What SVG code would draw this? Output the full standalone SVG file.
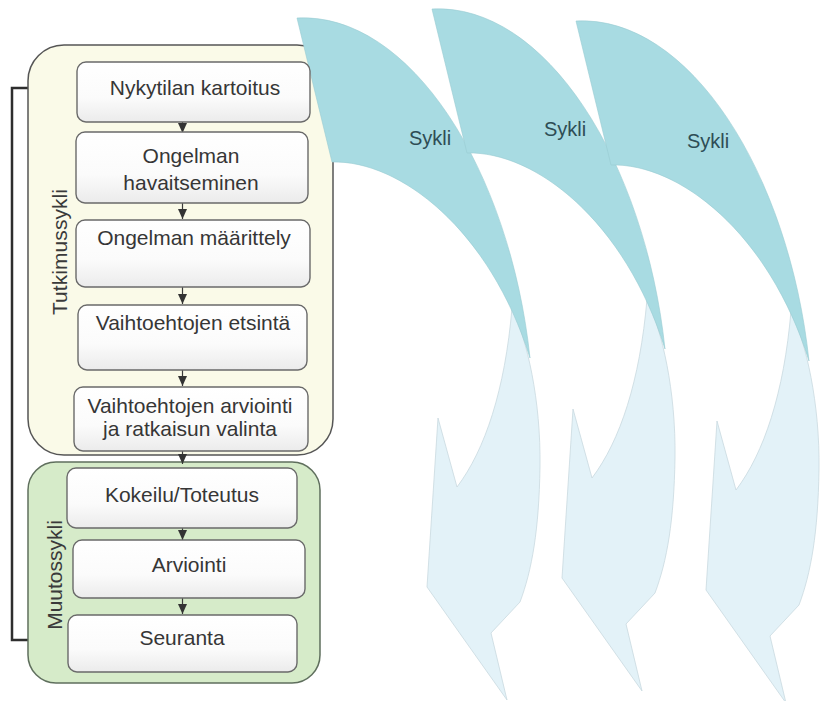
<svg xmlns="http://www.w3.org/2000/svg" xmlns:xlink="http://www.w3.org/1999/xlink" width="820" height="701" viewBox="0 0 820 701">
  <style>
    .lbl { font-family: "Liberation Sans", Arial, sans-serif; font-size: 21px; fill: #363636; text-anchor: middle; }
    .side { font-family: "Liberation Sans", Arial, sans-serif; font-size: 21px; fill: #3a3a3a; text-anchor: middle; }
    .cyc { font-family: "Liberation Sans", Arial, sans-serif; font-size: 20px; fill: #2e4d55; text-anchor: middle; }
    .step { fill: url(#boxFill); stroke: #6a6a6a; stroke-width: 1.4; }
    .conn { stroke: #3a3a3a; stroke-width: 1.2; fill: none; marker-end: url(#tri); }
    .upper { fill: #a8dbe2; stroke: #98cbd2; stroke-width: 0.6; }
    .lower { fill: #e3f2f8; stroke: #c9d9df; stroke-width: 0.8; }
  </style>
  <defs>
    <linearGradient id="boxFill" x1="0" y1="0" x2="0" y2="1">
      <stop offset="0" stop-color="#ffffff"/>
      <stop offset="0.6" stop-color="#fbfbfb"/>
      <stop offset="1" stop-color="#ebebeb"/>
    </linearGradient>
    <marker id="tri" markerUnits="userSpaceOnUse" markerWidth="10" markerHeight="9" refX="10" refY="4.5" orient="auto">
      <path d="M0,0 L10,4.5 L0,9 Z" fill="#333"/>
    </marker>
    <!-- one curved cycle arrow: pale descending head under the teal crescent -->
    <g id="cycleArrow">
      <path class="lower" d="M512,308 C527,340 541,400 540,467 C539,530 532,570 520,602 L491,633 L507,700 L427,587 L438,418 L457,487 C485,450 505,390 512,308 Z"/>
      <path class="upper" d="M297,18 C410,12 510,170 530,358 C490,230 400,160 332,162 Z"/>
    </g>
  </defs>

  <rect width="820" height="701" fill="#ffffff"/>

  <!-- bracket joining the two phases -->
  <path d="M28,88 H12 V640 H28" fill="none" stroke="#2e2e2e" stroke-width="2.5"/>

  <!-- phase containers -->
  <g id="tutkimussykli">
    <rect x="28" y="45" width="305" height="410" rx="36" ry="36" fill="#fafae8" stroke="#555" stroke-width="1.5"/>
    <text class="side" transform="translate(67,252) rotate(-90)" textLength="126" lengthAdjust="spacing">Tutkimussykli</text>
  </g>
  <g id="muutossykli">
    <rect x="28" y="462" width="292" height="221" rx="28" ry="28" fill="#d6ebc9" stroke="#5f6f5d" stroke-width="1.5"/>
    <text class="side" transform="translate(62,575) rotate(-90)">Muutossykli</text>
  </g>

  <!-- cycle arrows -->
  <g id="sykli-1">
    <use xlink:href="#cycleArrow"/>
    <text class="cyc" x="430" y="145">Sykli</text>
  </g>
  <g id="sykli-2">
    <use xlink:href="#cycleArrow" transform="translate(135,-9)"/>
    <text class="cyc" x="565" y="136">Sykli</text>
  </g>
  <g id="sykli-3">
    <use xlink:href="#cycleArrow" transform="translate(279,3)"/>
    <text class="cyc" x="708" y="148">Sykli</text>
  </g>

  <!-- connectors between steps -->
  <g id="connectors">
    <line class="conn" x1="182.5" y1="122" x2="182.5" y2="133"/>
    <line class="conn" x1="182.5" y1="203" x2="182.5" y2="219"/>
    <line class="conn" x1="182.5" y1="287" x2="182.5" y2="304"/>
    <line class="conn" x1="182.5" y1="370" x2="182.5" y2="386"/>
    <line class="conn" x1="182.5" y1="451" x2="182.5" y2="464"/>
    <line class="conn" x1="182.5" y1="528" x2="182.5" y2="540"/>
    <line class="conn" x1="182.5" y1="598" x2="182.5" y2="614"/>
  </g>

  <!-- steps -->
  <g id="nykytilan-kartoitus">
    <rect class="step" x="77" y="62" width="233" height="60" rx="9"/>
    <text class="lbl" x="195" y="95">Nykytilan kartoitus</text>
  </g>
  <g id="ongelman-havaitseminen">
    <rect class="step" x="76" y="132" width="232" height="71" rx="9"/>
    <text class="lbl" x="191" y="163">Ongelman</text>
    <text class="lbl" x="191" y="190">havaitseminen</text>
  </g>
  <g id="ongelman-maarittely">
    <rect class="step" x="76" y="220" width="234" height="67" rx="9"/>
    <text class="lbl" x="194" y="245">Ongelman määrittely</text>
  </g>
  <g id="vaihtoehtojen-etsinta">
    <rect class="step" x="78" y="305" width="229" height="65" rx="9"/>
    <text class="lbl" x="193" y="330">Vaihtoehtojen etsintä</text>
  </g>
  <g id="vaihtoehtojen-arviointi">
    <rect class="step" x="74" y="387" width="234" height="64" rx="9"/>
    <text class="lbl" x="190" y="413">Vaihtoehtojen arviointi</text>
    <text class="lbl" x="190" y="436">ja ratkaisun valinta</text>
  </g>
  <g id="kokeilu-toteutus">
    <rect class="step" x="67" y="468" width="230" height="60" rx="9"/>
    <text class="lbl" x="182" y="502">Kokeilu/Toteutus</text>
  </g>
  <g id="arviointi">
    <rect class="step" x="73" y="540" width="232" height="58" rx="9"/>
    <text class="lbl" x="189" y="572">Arviointi</text>
  </g>
  <g id="seuranta">
    <rect class="step" x="68" y="615" width="229" height="57" rx="9"/>
    <text class="lbl" x="182" y="645">Seuranta</text>
  </g>
</svg>
